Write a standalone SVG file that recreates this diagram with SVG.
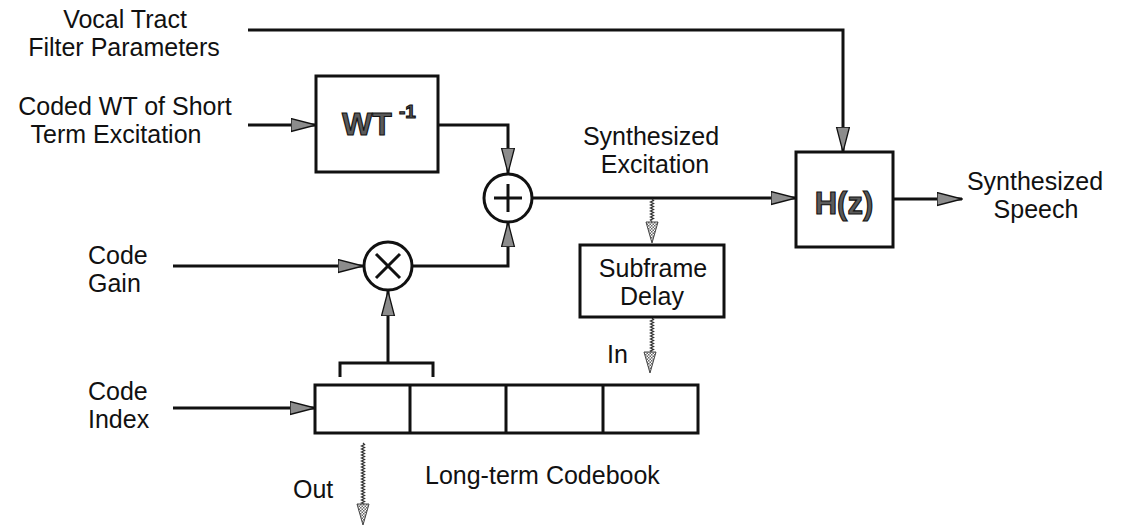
<svg xmlns="http://www.w3.org/2000/svg" width="1121" height="527" viewBox="0 0 1121 527">
<style>
.t{font-family:"Liberation Sans",Arial,sans-serif;font-size:25px;fill:#111}
.b{font-family:"Liberation Sans",Arial,sans-serif;font-weight:bold;fill:#5a5a5a;stroke:#111;stroke-width:1.1}
.ln{fill:none;stroke:#111;stroke-width:3}
.box{fill:#fff;stroke:#111;stroke-width:3}
.wv{fill:none;stroke:#333;stroke-width:1.3}
.wh{fill:url(#chk);stroke:#444;stroke-width:1}
</style>
<defs>
<marker id="ar" markerUnits="userSpaceOnUse" markerWidth="26" markerHeight="16" refX="25" refY="7" orient="auto">
<path d="M0,0.5 L25,7 L0,13.5 z" fill="#8c8c8c" stroke="#111" stroke-width="1.3"/>
</marker>
<pattern id="chk" width="3" height="3" patternUnits="userSpaceOnUse">
<rect width="3" height="3" fill="#fff"/>
<rect width="1.5" height="1.5" fill="#666"/>
<rect x="1.5" y="1.5" width="1.5" height="1.5" fill="#666"/>
</pattern>
</defs>
<rect width="1121" height="527" fill="#fff"/>

<g id="connectors">
<path class="ln" d="M248,30 H843 V152" marker-end="url(#ar)"/>
<path class="ln" d="M248,125 H316" marker-end="url(#ar)"/>
<path class="ln" d="M438,125 H508 V173" marker-end="url(#ar)"/>
<path class="ln" d="M412,266 H508 V222" marker-end="url(#ar)"/>
<path class="ln" d="M173,266 H363" marker-end="url(#ar)"/>
<path class="ln" d="M388,363 V291" marker-end="url(#ar)"/>
<path class="ln" d="M340,377 V363 H433 V377"/>
<path class="ln" d="M173,408 H315" marker-end="url(#ar)"/>
<path class="ln" d="M533,198 H796" marker-end="url(#ar)"/>
<path class="ln" d="M893,199 H962" marker-end="url(#ar)"/>
<path class="wv" d="M652,199 l1.5,1.5 l-3,1.5 l3,1.5 l-3,1.5 l3,1.5 l-3,1.5 l3,1.5 l-3,1.5 l3,1.5 l-3,1.5 l3,1.5 l-3,1.5 l3,1.5 l-3,1.5 l1.5,1.5"/>
<polygon class="wh" points="646,222 658,222 652,243"/>
<path class="wv" d="M652,318 l1.5,1.5 l-3,1.5 l3,1.5 l-3,1.5 l3,1.5 l-3,1.5 l3,1.5 l-3,1.5 l3,1.5 l-3,1.5 l3,1.5 l-3,1.5 l3,1.5 l-3,1.5 l3,1.5 l-3,1.5 l3,1.5 l-3,1.5 l3,1.5 l-3,1.5 l3,1.5 l-3,1.5 l1.5,1.5"/>
<polygon class="wh" points="644,352 656,352 650,373"/>
<path class="wv" d="M363,443 l1.5,1.5 l-3,1.5 l3,1.5 l-3,1.5 l3,1.5 l-3,1.5 l3,1.5 l-3,1.5 l3,1.5 l-3,1.5 l3,1.5 l-3,1.5 l3,1.5 l-3,1.5 l3,1.5 l-3,1.5 l3,1.5 l-3,1.5 l3,1.5 l-3,1.5 l3,1.5 l-3,1.5 l3,1.5 l-3,1.5 l3,1.5 l-3,1.5 l3,1.5 l-3,1.5 l3,1.5 l-3,1.5 l3,1.5 l-3,1.5 l3,1.5 l-3,1.5 l3,1.5 l-3,1.5 l3,1.5 l-3,1.5 l3,1.5 l-3,1.5 l3,1.5 l-3,1.5 l1.5,1.5"/>
<polygon class="wh" points="357,504 369,504 363,525"/>
</g>

<g id="label-vocal">
<text class="t" text-anchor="middle"><tspan x="125" y="28">Vocal Tract</tspan><tspan x="124" y="56">Filter Parameters</tspan></text>
</g>
<g id="label-coded">
<text class="t" text-anchor="middle"><tspan x="125" y="115">Coded WT of Short</tspan><tspan x="116" y="143">Term Excitation</tspan></text>
</g>
<g id="label-gain">
<text class="t"><tspan x="88" y="264">Code</tspan><tspan x="88" y="292">Gain</tspan></text>
</g>
<g id="label-index">
<text class="t"><tspan x="88" y="400">Code</tspan><tspan x="88" y="428">Index</tspan></text>
</g>

<g id="wt-inv">
<rect class="box" x="316" y="76" width="122" height="96"/>
<text class="b" x="342" y="135" font-size="32">WT</text>
<text class="b" x="399" y="118" font-size="19">-1</text>
</g>

<g id="adder">
<circle class="box" cx="508" cy="198" r="24"/>
<path class="ln" d="M494,198 H522 M508,184 V212"/>
</g>

<g id="multiplier">
<circle class="box" cx="388" cy="266" r="24"/>
<path class="ln" d="M376,254 L400,278 M400,254 L376,278"/>
</g>

<g id="label-excitation">
<text class="t" text-anchor="middle"><tspan x="651" y="145">Synthesized</tspan><tspan x="655" y="173">Excitation</tspan></text>
</g>

<g id="hz">
<rect class="box" x="796" y="152" width="97" height="95"/>
<text class="b" x="844" y="214" font-size="31" text-anchor="middle">H(z)</text>
</g>

<g id="label-speech">
<text class="t" text-anchor="middle"><tspan x="1035" y="190">Synthesized</tspan><tspan x="1036" y="218">Speech</tspan></text>
</g>

<g id="subframe-delay">
<rect class="box" x="580" y="245" width="144" height="72"/>
<text class="t" text-anchor="middle"><tspan x="653" y="277">Subframe</tspan><tspan x="652" y="305">Delay</tspan></text>
</g>

<g id="label-in">
<text class="t" x="607" y="363">In</text>
</g>

<g id="codebook">
<rect class="box" x="315" y="385" width="383" height="48"/>
<path class="ln" d="M410,385 V433 M506,385 V433 M603,385 V433"/>
</g>

<g id="label-codebook">
<text class="t" x="425" y="484">Long-term Codebook</text>
</g>
<g id="label-out">
<text class="t" x="293" y="498">Out</text>
</g>
</svg>
